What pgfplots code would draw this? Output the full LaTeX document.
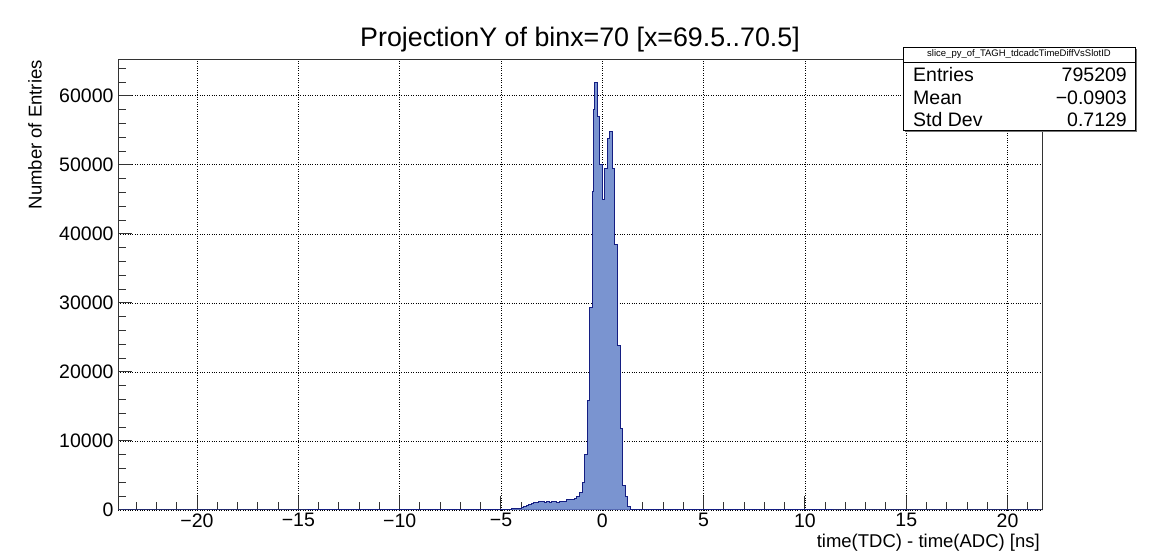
\documentclass[border=0pt]{standalone}
\usepackage{pgfplots}
\pgfplotsset{compat=1.18}
\usepackage{fontspec}
\setmainfont{Liberation Sans}
\definecolor{histfill}{RGB}{122,148,208}
\definecolor{histline}{RGB}{20,30,130}
\begin{document}
\begin{tikzpicture}[x=1pt,y=1pt]
\useasboundingbox (0,0) rectangle (1158,556);
\begin{axis}[
 at={(118pt,46pt)}, anchor=south west,
 scale only axis, width=924pt, height=450pt,
 xmin=-23.9, xmax=21.7, ymin=0, ymax=65200,
 xtick={-20,-15,...,20},
 xticklabels={−20,−15,−10,−5,0,5,10,15,20},
 minor xtick={-23,-22,...,21},
 ytick={0,10000,...,60000},
 yticklabels={0,10000,20000,30000,40000,50000,60000},
 minor ytick={2000,4000,...,64000},
 tick align=inside, xtick pos=bottom, ytick pos=left,
 major tick length=14pt, minor tick length=7.5pt,
 grid=major, major grid style={dotted, black, line width=0.8pt},
 minor grid style={draw=none},
 axis line style={line width=1pt, black!80},
 tick style={line width=1pt, black!80},
 ticklabel style={font=\fontsize{19.5}{22}\selectfont},
 yticklabel style={xshift=-1pt},
 scaled y ticks=false,
]
\addplot[const plot, fill=histfill, draw=histline, line width=1pt] coordinates {
(-23.9,0) (-5.75,30) (-5.5,60) (-5.25,50) (-5.0,80) (-4.75,100) (-4.5,150) (-4.25,200)
(-4.0,300) (-3.875,450) (-3.75,620) (-3.625,800) (-3.5,950) (-3.375,1050) (-3.25,1120)
(-3.125,1180) (-3.0,1250) (-2.875,1150) (-2.75,1220) (-2.625,1120) (-2.5,1180) (-2.375,1200)
(-2.25,1150) (-2.125,1250) (-2.0,1300) (-1.875,1280) (-1.75,1450) (-1.625,1480) (-1.5,1550)
(-1.375,1700) (-1.25,1900) (-1.125,2600) (-1.0,4000) (-0.875,8000) (-0.75,15800)
(-0.625,29300) (-0.5,46100) (-0.4375,58000) (-0.375,62000) (-0.25,57000) (-0.125,50000)
(0.0,45000) (0.125,49500) (0.25,53800) (0.375,54800) (0.5,49500) (0.625,38500)
(0.75,23800) (0.875,11800) (1.0,3600) (1.125,1900) (1.25,500) (1.375,120) (1.5,20)
(1.625,0) (21.7,0)
} \closedcycle;
\end{axis}
% title and axis labels
\node[font=\fontsize{26.8}{30}\selectfont] at (580,516) {ProjectionY of binx=70 [x=69.5..70.5]};
\node[anchor=east, inner sep=0pt, font=\fontsize{18.5}{21}\selectfont] at (1040,13) {time(TDC) - time(ADC) [ns]};
\node[rotate=90, anchor=east, inner sep=0pt, font=\fontsize{18.5}{21}\selectfont] at (35,496) {Number of Entries};
% stats box
\fill[black!55] (905,424) rectangle (1137,507);
\draw[fill=white, line width=0.8pt] (903,426) rectangle (1135,509);
\draw[line width=0.8pt] (903,494) -- (1135,494);
\node[font=\fontsize{9.5}{10}\selectfont] at (1019,501.5) {slice\_py\_of\_TAGH\_tdcadcTimeDiffVsSlotID};
\begin{scope}[font=\fontsize{19.5}{22}\selectfont]
\node[anchor=west, inner sep=0pt] at (913,481) {Entries};
\node[anchor=east, inner sep=0pt] at (1127,481) {795209};
\node[anchor=west, inner sep=0pt] at (913,458) {Mean};
\node[anchor=east, inner sep=0pt] at (1127,458) {−0.0903};
\node[anchor=west, inner sep=0pt] at (913,436) {Std Dev};
\node[anchor=east, inner sep=0pt] at (1127,436) {0.7129};
\end{scope}
\end{tikzpicture}
\end{document}
